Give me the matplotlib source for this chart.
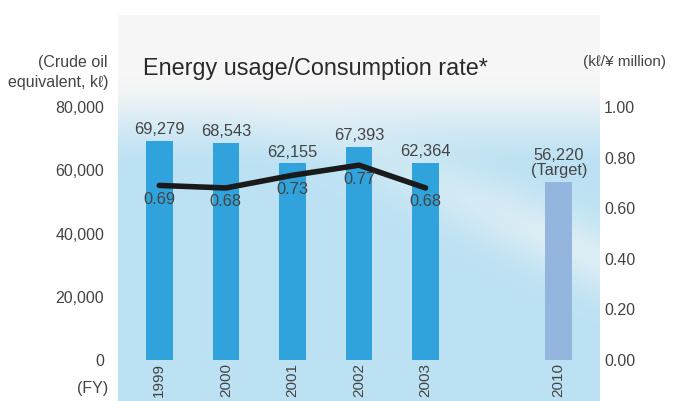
import numpy as np
import matplotlib
matplotlib.use("Agg")
import matplotlib.pyplot as plt

plt.rcParams['font.family'] = ['Liberation Sans', 'DejaVu Sans']

years = ["1999", "2000", "2001", "2002", "2003", "2010"]
positions = [0, 1, 2, 3, 4, 6]
usage = [69279, 68543, 62155, 67393, 62364, 56220]
usage_labels = ["69,279", "68,543", "62,155", "67,393", "62,364", "56,220\n(Target)"]
rate = [0.69, 0.68, 0.73, 0.77, 0.68]
rate_labels = ["0.69", "0.68", "0.73", "0.77", "0.68"]
left_ticks = [0, 20000, 40000, 60000, 80000]
left_ticklabels = ["0", "20,000", "40,000", "60,000", "80,000"]
right_ticks = [0.0, 0.2, 0.4, 0.6, 0.8, 1.0]
right_ticklabels = ["0.00", "0.20", "0.40", "0.60", "0.80", "1.00"]

W, H = 684, 401
fig = plt.figure(figsize=(W / 100, H / 100), dpi=100)
txt = '#444444'

# panel: x 118..600, y 15..401 (pixels from top)
ax = fig.add_axes([118 / W, 0, (600 - 118) / W, (401 - 15) / H])
ymin, ymax = -12964, 109091
ax.set_xlim(-0.62, 6.62)
ax.set_ylim(ymin, ymax)

# background gradient
ny, nx = 300, 300
yy, xx = np.mgrid[0:1:ny * 1j, 0:1:nx * 1j]  # yy=0 top
top = np.array([0.965, 0.965, 0.965])
bot = np.array([0.74, 0.885, 0.955])
t = np.clip((yy - 0.15) / 0.25, 0, 1)
t = t * t * (3 - 2 * t)
img = top * (1 - t[..., None]) + bot * t[..., None]
# soft white swoosh running down to the right
line = 0.207 + 0.57 * (xx - 0.25)
strength = np.clip((xx - 0.2) / 0.7, 0, 1) * 0.55
glow = np.exp(-((yy - line) / 0.09) ** 2) * strength
img = img * (1 - glow[..., None]) + 0.965 * glow[..., None]
ax.imshow(img, extent=[-0.62, 6.62, ymin, ymax], aspect='auto', zorder=0,
          interpolation='bilinear')

colors = ['#31a3dc'] * 5 + ['#93b5de']
ax.bar(positions, usage, width=0.4, color=colors, zorder=2)
for p, v, lab in zip(positions, usage, usage_labels):
    ax.text(p, v + 1200, lab, ha='center', va='bottom', fontsize=11.8,
            color=txt, linespacing=1.0, zorder=4)
for p, y in zip(positions, years):
    ax.text(p, -900, y, ha='center', va='top', rotation=90, fontsize=11,
            color=txt, zorder=4)

ax.set_yticks(left_ticks)
ax.set_yticklabels(left_ticklabels, fontsize=11.5, color=txt)
ax.tick_params(axis='y', length=0, pad=10)
ax.set_xticks([])
for s in ax.spines.values():
    s.set_visible(False)

ax2 = ax.twinx()
ax2.set_ylim(ymin / 80000, ymax / 80000)
ax2.plot(positions[:5], rate, color='#1a1a1a', lw=4, solid_capstyle='round', zorder=5)
for p, r, lab in zip(positions[:5], rate, rate_labels):
    ax2.text(p, r - 0.025, lab, ha='center', va='top', fontsize=11.8,
             color=txt, zorder=6)
ax2.set_yticks(right_ticks)
ax2.set_yticklabels(right_ticklabels, fontsize=11.5, color=txt)
ax2.tick_params(axis='y', length=0, pad=3)
for s in ax2.spines.values():
    s.set_visible(False)

fig.text(143 / W, 1 - 68 / H, "Energy usage/Consumption rate*", fontsize=16.8,
         color='#2a2a2a', va='center', ha='left')
fig.text(108 / W, 1 - 62 / H, "(Crude oil", fontsize=11.5, color=txt, ha='right', va='center')
fig.text(108 / W, 1 - 82 / H, "equivalent, k\u2113)", fontsize=11.5, color=txt, ha='right', va='center')
fig.text(583 / W, 1 - 62 / H, "(k\u2113/\u00a5 million)", fontsize=11, color=txt, ha='left', va='center')
fig.text(108 / W, 1 - 389 / H, "(FY)", fontsize=11.5, color=txt, ha='right', va='center')

fig.savefig("out.png", dpi=100)
